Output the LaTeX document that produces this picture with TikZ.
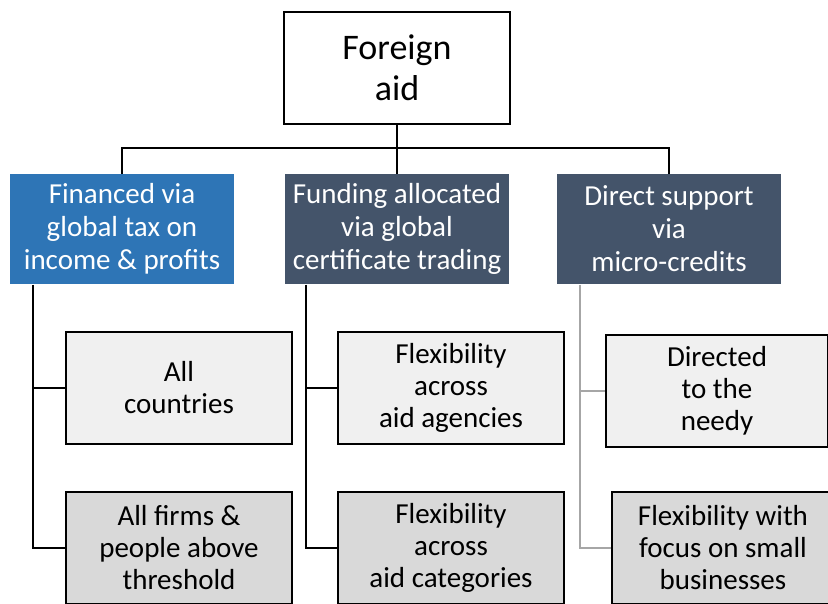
\documentclass[tikz,border=0pt]{standalone}
\usepackage{fontspec}
\setmainfont{Carlito}
\definecolor{taxblue}{HTML}{2E75B6}
\definecolor{slate}{HTML}{44546A}
\definecolor{paleg}{HTML}{F0F0F0}
\definecolor{midg}{HTML}{D9D9D9}
\definecolor{lineg}{HTML}{A6A6A6}
\begin{document}
\begin{tikzpicture}[x=1pt, y=1pt,
  rootbox/.style={rectangle, draw, line width=2.8pt, minimum width=226pt, minimum height=112pt, align=center, font=\fontsize{36}{41}\selectfont},
  headbox/.style={rectangle, text=white, minimum width=224pt, minimum height=110pt, align=center, font=\fontsize{29}{33}\selectfont},
  itembox/.style={rectangle, draw, line width=2.8pt, minimum width=226pt, minimum height=112pt, align=center, font=\fontsize{29}{32}\selectfont},
  link/.style={line width=2.8pt},
  greylink/.style={line width=2.8pt, lineg}
]
  \clip (0,0) rectangle (828,603);
  \useasboundingbox (0,0) rectangle (828,603);

  % Root
  \node[rootbox] (aid) at (397,535) {Foreign\\aid};

  % Three ways of funding
  \node[headbox, fill=taxblue] (tax) at (122,374) {Financed via\\global tax on\\income \& profits};
  \node[headbox, fill=slate] (cert) at (397,374) {Funding allocated\\via global\\certificate trading};
  \node[headbox, fill=slate] (micro) at (669,374) {Direct support\\via\\micro-credits};

  % Items below each
  \node[itembox, fill=paleg] (allc) at (179,215) {All\\countries};
  \node[itembox, fill=midg] (firms) at (179,55) {All firms \&\\people above\\threshold};
  \node[itembox, fill=paleg] (agen) at (451,215) {Flexibility\\across\\aid agencies};
  \node[itembox, fill=midg] (cats) at (451,55) {Flexibility\\across\\aid categories};
  \node[itembox, minimum width=222pt, fill=paleg] (needy) at (717,212) {Directed\\to the\\needy};
  \node[itembox, minimum width=222pt, fill=midg] (small) at (723,55) {Flexibility with\\focus on small\\businesses};

  % Tree lines
  \coordinate (bar) at (397,455);
  \draw[link] (aid.south) -- (cert.north);
  \draw[link] (tax.north) |- (bar) -| (micro.north);

  \coordinate (t1) at (33,318);
  \coordinate (t2) at (306,318);
  \coordinate (t3) at (580,318);
  \draw[link] (t1) |- (allc.west);
  \draw[link] (t1) |- (firms.west);
  \draw[link] (t2) |- (agen.west);
  \draw[link] (t2) |- (cats.west);
  \draw[greylink] (t3) |- (needy.west);
  \draw[greylink] (t3) |- (small.west);
\end{tikzpicture}
\end{document}
